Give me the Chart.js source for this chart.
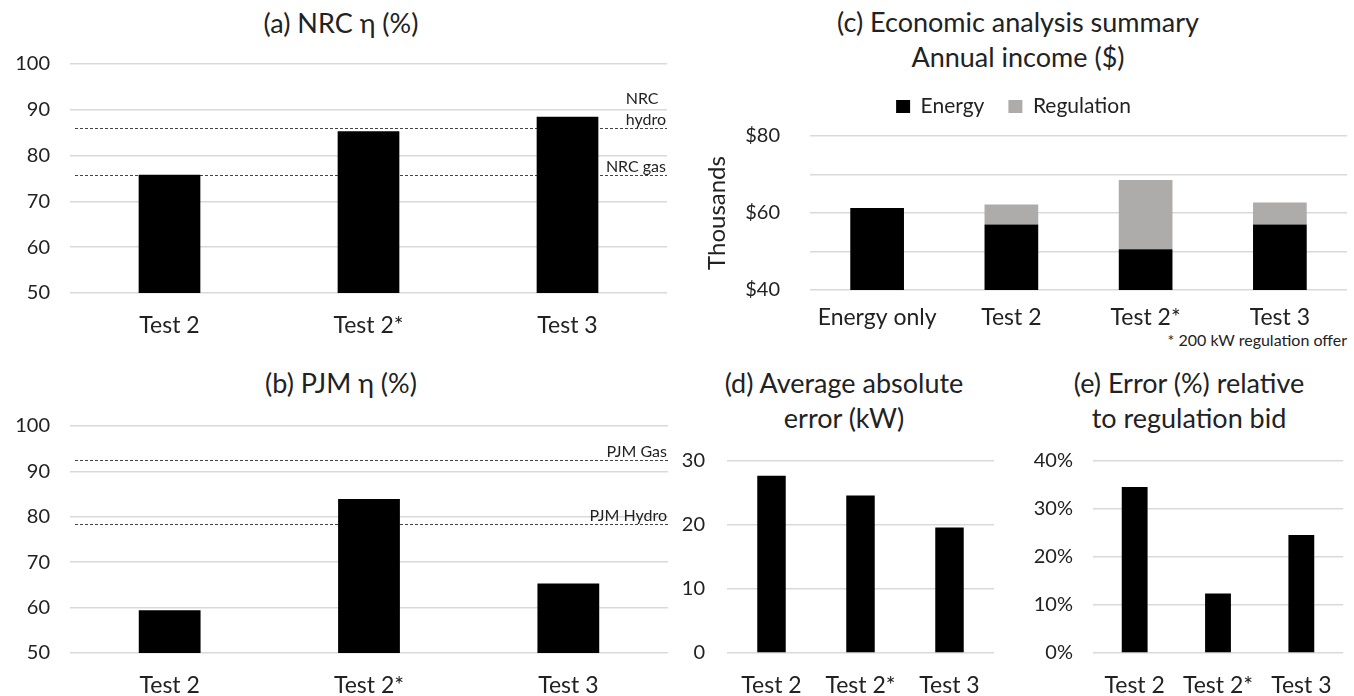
<!DOCTYPE html>
<html>
<head>
<meta charset="utf-8">
<script src="https://cdn.jsdelivr.net/npm/chart.js@4.4.1/dist/chart.umd.min.js"></script>
<style>
    body { margin: 0; background: #fff; width: 1354px; height: 696px; position: relative; overflow: hidden; font-family: Lato, sans-serif; color: #222; }
    canvas { position: absolute; }
    .title { position: absolute; font-size: 27px; line-height: 35px; text-align: center; white-space: nowrap; transform: translateX(-50%); }
    .note { position: absolute; font-size: 16px; line-height: 17px; right: 7px; top: 331px; white-space: nowrap; }
</style>
</head>
<body>
<div class="title" style="left:341px; top:5px;">(a) NRC η (%)</div>
<div class="title" style="left:341px; top:365px;">(b) PJM η (%)</div>
<div class="title" style="left:1018px; top:4px;">(c) Economic analysis summary<br>Annual income ($)</div>
<div class="title" style="left:844px; top:365px;">(d) Average absolute<br>error (kW)</div>
<div class="title" style="left:1189px; top:365px;">(e) Error (%) relative<br>to regulation bid</div>
<div class="note">* 200 kW regulation offer</div>

<canvas id="nrc" width="680" height="340" style="left:0; top:0;"></canvas>
<canvas id="pjm" width="680" height="356" style="left:0; top:340px;"></canvas>
<canvas id="income" width="674" height="340" style="left:680px; top:0;"></canvas>
<canvas id="abserr" width="330" height="356" style="left:680px; top:340px;"></canvas>
<canvas id="relerr" width="344" height="356" style="left:1010px; top:340px;"></canvas>

<script>
const testLabels = ['Test 2', 'Test 2*', 'Test 3'];

const nrcEta = [75.8, 85.3, 88.5];
const nrcRefValues = [86.1, 75.8];
const nrcRefLabels = [['NRC', 'hydro'], ['NRC gas']];

const pjmEta = [59.4, 83.9, 65.3];
const pjmRefValues = [92.5, 78.4];
const pjmRefLabels = [['PJM Gas'], ['PJM Hydro']];

const incomeLabels = ['Energy only', 'Test 2', 'Test 2*', 'Test 3'];
const energyIncome = [61300, 57000, 50600, 57000];
const regulationIncome = [0, 5200, 18000, 5700];

const avgAbsError = [27.7, 24.6, 19.6];
const errorPct = [34.6, 12.4, 24.6];

const FONT = 'Lato';
const TEXT = '#222';
const GRID = '#d9d9d9';

Chart.defaults.font.family = FONT;
Chart.defaults.color = TEXT;

// dashed reference lines, drawn under the bars
const refLinePlugin = {
    id: 'refLines',
    beforeDatasetsDraw(chart, args, opts) {
        if (!opts.values) return;
        const ctx = chart.ctx;
        const area = chart.chartArea;
        const y = chart.scales.y;
        ctx.save();
        ctx.font = '16px ' + FONT;
        ctx.fillStyle = TEXT;
        opts.values.forEach((v, i) => {
            const py = Math.round(y.getPixelForValue(v)) + 0.5;
            ctx.strokeStyle = '#444';
            ctx.lineWidth = 1;
            ctx.setLineDash([3, 2]);
            ctx.beginPath();
            ctx.moveTo(area.left + 5, py);
            ctx.lineTo(area.right, py);
            ctx.stroke();
            const lines = opts.labels[i];
            const w = Math.max(...lines.map(t => ctx.measureText(t).width));
            ctx.textAlign = 'left';
            ctx.textBaseline = 'bottom';
            lines.slice().reverse().forEach((t, j) => {
                ctx.fillText(t, area.right - w - 1, py - 1 - j * 21);
            });
        });
        ctx.restore();
    }
};

// fixed legend height so the plot area can start where it does in the original
const legendHeightPlugin = {
    id: 'legendHeight',
    beforeInit(chart) {
        const h = chart.options.plugins.legendHeight && chart.options.plugins.legendHeight.height;
        if (!h || !chart.legend) return;
        const fit = chart.legend.fit;
        chart.legend.fit = function () {
            fit.call(this);
            this.height = h;
        };
    }
};

function barChart(id, o) {
    return new Chart(document.getElementById(id), {
        type: 'bar',
        data: { labels: o.labels, datasets: o.datasets },
        plugins: [refLinePlugin, legendHeightPlugin],
        options: {
            responsive: false,
            animation: false,
            devicePixelRatio: 1,
            layout: { padding: { top: o.top, right: o.right, left: 0, bottom: 0 } },
            plugins: {
                legend: o.legend || { display: false },
                legendHeight: { height: o.legendHeight },
                tooltip: { enabled: false },
                refLines: o.refs || {}
            },
            scales: {
                x: {
                    stacked: !!o.stacked,
                    grid: { display: false },
                    border: { display: false },
                    ticks: { font: { size: 23 }, padding: o.xPad || 11, maxRotation: 0 },
                    afterFit: s => { s.height = o.xHeight; }
                },
                y: {
                    stacked: !!o.stacked,
                    min: o.min, max: o.max,
                    grid: { color: GRID, lineWidth: 1.5, drawTicks: false },
                    border: { display: false },
                    ticks: { stepSize: o.step, font: { size: 20 }, padding: o.tickPad, callback: o.tickFmt },
                    title: o.yTitle || { display: false },
                    afterFit: s => { s.width = o.yWidth; }
                }
            }
        }
    });
}

function blackBars(data, pct) {
    return [{ data: data, backgroundColor: '#000', barPercentage: pct, categoryPercentage: 1 }];
}

barChart('nrc', {
    labels: testLabels, datasets: blackBars(nrcEta, 0.31),
    min: 50, max: 100, step: 10,
    top: 64, right: 13, xHeight: 47, yWidth: 70, tickPad: 20,
    refs: { values: nrcRefValues, labels: nrcRefLabels }
});

barChart('pjm', {
    labels: testLabels, datasets: blackBars(pjmEta, 0.31),
    min: 50, max: 100, step: 10,
    top: 86, right: 12, xHeight: 43, yWidth: 70, tickPad: 20,
    refs: { values: pjmRefValues, labels: pjmRefLabels }
});

barChart('income', {
    labels: incomeLabels, stacked: true,
    datasets: [
        { label: 'Energy', data: energyIncome, backgroundColor: '#000', barPercentage: 0.4, categoryPercentage: 1 },
        { label: 'Regulation', data: regulationIncome, backgroundColor: '#aeabab', barPercentage: 0.4, categoryPercentage: 1 }
    ],
    min: 40000, max: 80000, step: 10000,
    tickFmt: v => (v % 20000 === 0 ? '$' + v / 1000 : ''),
    top: 72, right: 7, xHeight: 50, yWidth: 130, tickPad: 30, xPad: 6,
    yTitle: { display: true, text: 'Thousands', font: { size: 24 }, padding: { top: 23, bottom: 0 } },
    legend: {
        display: true, position: 'top',
        labels: { boxWidth: 14, boxHeight: 13, padding: 24, font: { size: 21 } }
    },
    legendHeight: 64
});

barChart('abserr', {
    labels: testLabels, datasets: blackBars(avgAbsError, 0.32),
    min: 0, max: 30, step: 10,
    top: 121, right: 16, xHeight: 43, yWidth: 47, tickPad: 22
});

barChart('relerr', {
    labels: testLabels, datasets: blackBars(errorPct, 0.31),
    min: 0, max: 40, step: 10,
    tickFmt: v => v + '%',
    top: 121, right: 11, xHeight: 43, yWidth: 83, tickPad: 20
});
</script>
</body>
</html>
